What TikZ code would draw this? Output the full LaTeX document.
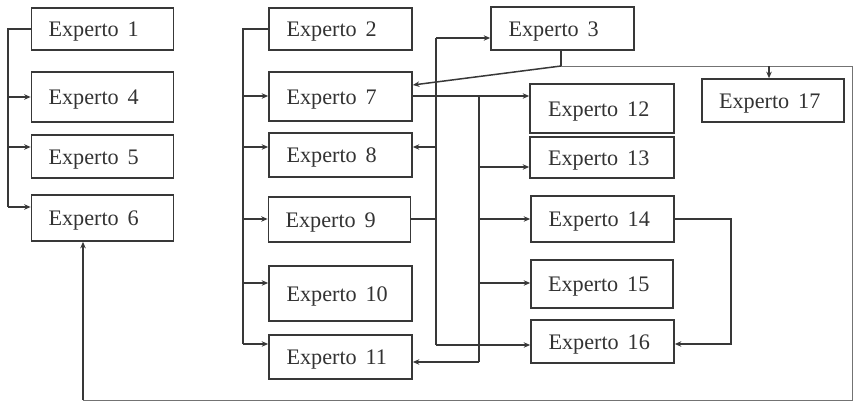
\documentclass[tikz,border=0pt]{standalone}
\usepackage{fontspec}
\setmainfont{Liberation Serif}
\usetikzlibrary{arrows.meta}
\newcommand{\expl}[1]{Experto\hspace{0.4em}#1}
\begin{document}
\begin{tikzpicture}[x=1pt,y=-1pt,
  box/.style={draw=black!78,line width=1.7pt,fill=white,inner ysep=0pt,inner xsep=17pt,
    text width=108pt,align=left,text height=15pt,text depth=0pt,
    text=black!80,font=\fontsize{22.2}{24}\selectfont},
  ln/.style={draw=black!78,line width=1.5pt},
  arr/.style={ln,-{Stealth[length=6.5pt,width=5.5pt]}},
  thinln/.style={draw=black!55,line width=1pt}]
\useasboundingbox (0,0) rectangle (853,402);
\fill[white] (0,0) rectangle (853,402);
% boxes
\node[box,minimum width=141pt,minimum height=42pt] (e1) at (102.5,29) {\expl{1}};
\node[box,minimum width=141pt,minimum height=50pt] (e4) at (102.5,97) {\expl{4}};
\node[box,minimum width=141pt,minimum height=43pt] (e5) at (102.5,156.5) {\expl{5}};
\node[box,minimum width=141pt,minimum height=46pt] (e6) at (102.5,218) {\expl{6}};
\node[box,minimum width=143pt,minimum height=42pt] (e2) at (340.5,29) {\expl{2}};
\node[box,minimum width=143pt,minimum height=49pt] (e7) at (340.5,96.5) {\expl{7}};
\node[box,minimum width=143pt,minimum height=44pt] (e8) at (340.5,155) {\expl{8}};
\node[box,minimum width=141pt,minimum height=45pt] (e9) at (339.5,219.5) {\expl{9}};
\node[box,minimum width=143pt,minimum height=55pt] (e10) at (340.5,293.5) {\expl{10}};
\node[box,minimum width=143pt,minimum height=44pt] (e11) at (340.5,357) {\expl{11}};
\node[box,minimum width=143pt,minimum height=43pt] (e3) at (562.5,28.5) {\expl{3}};
\node[box,minimum width=144pt,minimum height=49pt] (e12) at (602,108.5) {\expl{12}};
\node[box,minimum width=144pt,minimum height=41pt] (e13) at (602,157.5) {\expl{13}};
\node[box,minimum width=142pt,minimum height=43pt] (e17) at (773,100.5) {\expl{17}};
\node[box,minimum width=143pt,minimum height=46pt] (e14) at (602.5,219) {\expl{14}};
\node[box,minimum width=140pt,minimum height=48pt] (e15) at (602,284) {\expl{15}};
\node[box,minimum width=143pt,minimum height=43pt] (e16) at (602.5,341.5) {\expl{16}};
% junction coordinates
\coordinate (a1) at (8,29);  \coordinate (a4) at (8,97);
\coordinate (a5) at (8,147); \coordinate (a6) at (8,207);
\coordinate (b2) at (243,29);  \coordinate (b7) at (243,96);
\coordinate (b8) at (243,147); \coordinate (b9) at (243,219);
\coordinate (b10) at (243,283); \coordinate (b11) at (243,344);
\coordinate (c3) at (436,38);  \coordinate (c8) at (436,147);
\coordinate (c9) at (436,219); \coordinate (c16) at (436,345);
\coordinate (d7) at (479,96);  \coordinate (d13) at (479,167);
\coordinate (d14) at (479,219); \coordinate (d15) at (479,283);
\coordinate (d11) at (479,362);
\coordinate (f1) at (561,66); \coordinate (f17) at (769,66);
\coordinate (f2) at (852,66); \coordinate (f3) at (852,400);
\coordinate (f4) at (83,400);
\coordinate (g1) at (731,219); \coordinate (g2) at (731,344);
% left trunk
\draw[ln] (e1.west) -- (a1) -- (a6);
\draw[arr] (a4) -- (e4.west |- a4);
\draw[arr] (a5) -- (e5.west |- a5);
\draw[arr] (a6) -- (e6.west |- a6);
% second trunk
\draw[ln] (e2.west) -- (b2) -- (b11);
\draw[arr] (b7) -- (e7.west |- b7);
\draw[arr] (b8) -- (e8.west |- b8);
\draw[arr] (b9) -- (e9.west |- b9);
\draw[arr] (b10) -- (e10.west |- b10);
\draw[arr] (b11) -- (e11.west |- b11);
% trunk from Experto 9
\draw[ln] (e9.east |- c9) -- (c9);
\draw[ln] (c3) -- (c16);
\draw[arr] (c3) -- (e3.west |- c3);
\draw[arr] (c8) -- (e8.east |- c8);
\draw[arr] (c16) -- (e16.west |- c16);
% trunk from Experto 7
\draw[arr] (e7.east |- d7) -- (e12.west |- d7);
\draw[ln] (d7) -- (d11);
\draw[arr] (d13) -- (e13.west |- d13);
\draw[arr] (d14) -- (e14.west |- d14);
\draw[arr] (d15) -- (e15.west |- d15);
\draw[arr] (d11) -- (e11.east |- d11);
% Experto 3 outputs
\draw[ln] (f1 |- e3.south) -- (f1);
\draw[arr] (f1) -- ([yshift=11.5pt]e7.east);
\draw[thinln] (f1) -- (f2) -- (f3) -- (f4);
\draw[arr] (f4) -- (f4 |- e6.south);
\draw[arr] (f17) -- (f17 |- e17.north);
% Experto 14 to 16
\draw[arr] (e14.east) -- (g1) -- (g2) -- (e16.east |- g2);
\end{tikzpicture}
\end{document}
